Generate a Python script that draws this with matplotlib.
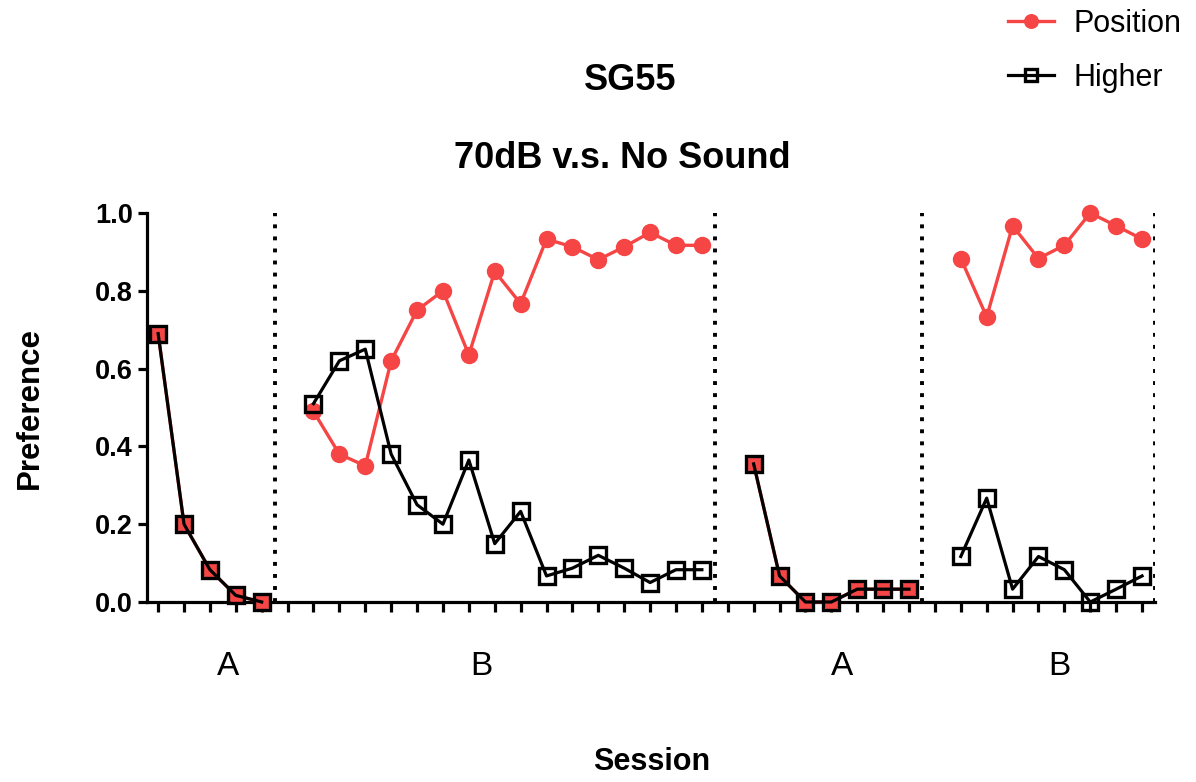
import numpy as np
import matplotlib.pyplot as plt

plt.rcParams['font.family'] = ['Liberation Sans', 'DejaVu Sans']

# phases of the session run and the preference per session
phases = ['A', 'B', 'A', 'B']
position = [
    [0.69, 0.20, 0.083, 0.017, 0.0],
    [0.49, 0.38, 0.35, 0.62, 0.75, 0.80, 0.635, 0.85, 0.767, 0.933, 0.913, 0.88, 0.913, 0.95, 0.917, 0.917],
    [0.355, 0.067, 0.0, 0.0, 0.033, 0.033, 0.033],
    [0.883, 0.733, 0.967, 0.883, 0.917, 1.0, 0.967, 0.933],
]
higher = [
    [0.69, 0.20, 0.083, 0.017, 0.0],
    [0.51, 0.62, 0.65, 0.38, 0.25, 0.20, 0.365, 0.15, 0.233, 0.067, 0.087, 0.12, 0.087, 0.05, 0.083, 0.083],
    [0.355, 0.067, 0.0, 0.0, 0.033, 0.033, 0.033],
    [0.117, 0.267, 0.033, 0.117, 0.083, 0.0, 0.033, 0.067],
]
# where the phase letters sit on the session axis
phase_label_x = [2.7, 12.5, 26.4, 34.8]

red = '#F54545'
W, H = 1196, 782
fig = plt.figure(figsize=(W / 100, H / 100), dpi=100)
ax = fig.add_axes([147 / W, 1 - 602 / H, 1008 / W, 389 / H])

start = 0
for i in range(len(phases)):
    n = len(position[i])
    x = start + np.arange(n)
    lp, = ax.plot(x, position[i], color=red, lw=2.4, marker='o', ms=11.5,
                  mec=red, mfc=red, zorder=3, clip_on=False)
    lh, = ax.plot(x, higher[i], color='black', lw=2.3, marker='s', ms=11,
                  mec='black', mfc='none', mew=2.4, zorder=4, clip_on=False)
    ax.axvline(start + n - 0.5, color='black', lw=2.8, linestyle=(0, (1, 2.1)),
               dash_capstyle='butt', zorder=2)
    ax.text(phase_label_x[i], -0.165, phases[i], ha='center', va='center',
            fontsize=24, transform=ax.transData)
    last = start + n - 1
    start += n + 1

ax.set_xlim(-0.43, last + 0.5)
ax.set_ylim(0, 1.0)
ax.set_xticks(np.arange(0, last + 1))
ax.set_xticklabels([])
ax.set_yticks([0.0, 0.2, 0.4, 0.6, 0.8, 1.0])
ax.set_yticklabels(['0.0', '0.2', '0.4', '0.6', '0.8', '1.0'], fontweight='bold', fontsize=19.5)
ax.tick_params(axis='y', length=6.5, width=2.3, pad=3.5)
ax.tick_params(axis='x', length=7.5, width=2.3)
for s in ['top', 'right']:
    ax.spines[s].set_visible(False)
for s in ['left', 'bottom']:
    ax.spines[s].set_linewidth(2.3)

fig.text(630 / W, 1 - 80 / H, 'SG55', ha='center', va='center', fontsize=26, fontweight='bold')
fig.text(622 / W, 1 - 158 / H, '70dB v.s. No Sound', ha='center', va='center', fontsize=26, fontweight='bold')
fig.text(30 / W, 1 - 408 / H, 'Preference', ha='center', va='center', rotation=90, fontsize=22.5, fontweight='bold')
fig.text(652 / W, 1 - 762 / H, 'Session', ha='center', va='center', fontsize=22, fontweight='bold')

fig.legend([lp, lh], ['Position', 'Higher'], loc='upper left', bbox_to_anchor=(1008 / W, 1 - 9 / H),
           frameon=False, fontsize=22, borderpad=0, borderaxespad=0, handlelength=1.5,
           handletextpad=0.65, labelspacing=0.78, markerscale=0.85)

fig.savefig('out.png', dpi=100)
